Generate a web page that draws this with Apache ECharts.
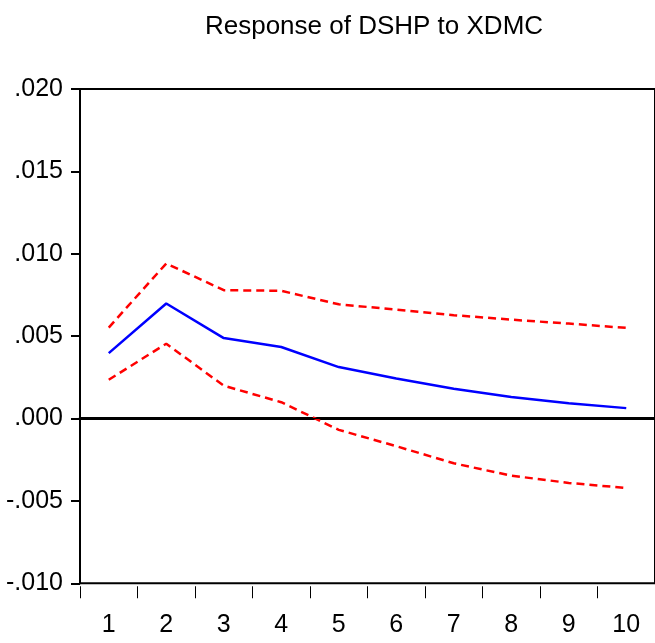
<!DOCTYPE html>
<html>
<head>
<meta charset="utf-8">
<script src="https://cdn.jsdelivr.net/npm/echarts@6/dist/echarts.min.js"></script>
<style>html,body{margin:0;padding:0;background:#fff;}#c{width:655px;height:643px;}</style>
</head>
<body>
<div id="c"></div>
<script>
var categories = ['1','2','3','4','5','6','7','8','9','10'];
var response = [0.00397, 0.00698, 0.00488, 0.00434, 0.00312, 0.00243, 0.00181, 0.00130, 0.00093, 0.00063];
var upperBand = [0.00552, 0.00941, 0.00779, 0.00775, 0.00693, 0.00661, 0.00627, 0.00600, 0.00576, 0.00550];
var lowerBand = [0.00235, 0.00454, 0.00199, 0.00099, -0.00069, -0.00168, -0.00272, -0.00347, -0.00391, -0.00422];
var yTicks = {min: -0.010, max: 0.020, interval: 0.005};
var titleText = 'Response of DSHP to XDMC';

var FONT = '"Liberation Sans Narrow", "Arial Narrow", "Liberation Sans", Arial, sans-serif';
var chart = echarts.init(document.getElementById('c'), null, {renderer: 'canvas'});
function fmt(v) {
  var s = Number(v).toFixed(3);
  return s.replace('0.', '.');
}
chart.setOption({
  animation: false,
  backgroundColor: '#ffffff',
  title: {
    text: titleText, left: 369, top: 9, textAlign: 'center',
    textStyle: {fontFamily: FONT, fontSize: 26, fontWeight: 'normal', color: '#000'}
  },
  grid: {left: 80, top: 89, right: -5, bottom: 59.75, show: true, borderColor: '#000', borderWidth: 2, backgroundColor: 'transparent'},
  xAxis: [{
    type: 'category', data: categories, position: 'bottom', boundaryGap: true,
    axisLine: {show: true, lineStyle: {color: '#000', width: 3}},
    axisTick: {show: false}, axisLabel: {show: false}, splitLine: {show: false}
  }, {
    type: 'category', data: categories, position: 'bottom', offset: 3, boundaryGap: true,
    axisLine: {show: false},
    axisTick: {show: true, length: 12, lineStyle: {color: '#000', width: 1}},
    axisLabel: {show: true, margin: 26, fontFamily: FONT, fontSize: 25, color: '#000'},
    splitLine: {show: false}
  }],
  yAxis: {
    type: 'value', min: yTicks.min, max: yTicks.max, interval: yTicks.interval,
    axisLine: {show: true, lineStyle: {color: '#000', width: 2}},
    axisTick: {show: true, inside: false, length: 9, lineStyle: {color: '#000', width: 2}},
    axisLabel: {formatter: fmt, margin: 17, fontFamily: FONT, fontSize: 25, color: '#000'},
    splitLine: {show: false}
  },
  series: [{
    name: 'Response', type: 'line', data: response, xAxisIndex: 0,
    symbol: 'none', lineStyle: {color: '#0000ff', width: 2.5}, z: 3,
    markLine: {
      silent: true, symbol: 'none', label: {show: false},
      lineStyle: {color: '#000', width: 1, type: 'solid'},
      data: [{yAxis: 0}]
    }
  }, {
    name: 'Upper', type: 'line', data: upperBand, xAxisIndex: 0,
    symbol: 'none', lineStyle: {color: '#ff0000', width: 2.5, type: [8, 5]}, z: 2
  }, {
    name: 'Lower', type: 'line', data: lowerBand, xAxisIndex: 0,
    symbol: 'none', lineStyle: {color: '#ff0000', width: 2.5, type: [8, 5]}, z: 2
  }]
});
</script>
</body>
</html>
